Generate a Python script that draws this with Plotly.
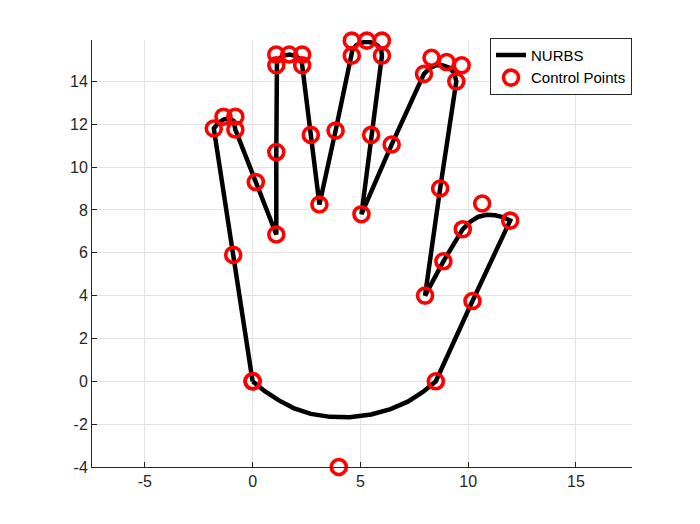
import plotly.graph_objects as go

# Control points (x, y)
ctrl_x = [0, -0.9, -1.8, -1.35, -0.8, -0.8, 0.15, 1.1, 1.1, 1.1, 1.1, 1.7, 2.3, 2.3,
          2.7, 3.1, 3.85, 4.6, 4.6, 5.3, 6.0, 6.0, 5.5, 5.05, 6.45, 7.95, 8.3, 9.0,
          9.7, 9.45, 8.7, 8.0, 8.85, 9.75, 10.65, 11.95, 10.2, 8.5, 4.0, 0]
ctrl_y = [0, 5.9, 11.8, 12.35, 12.35, 11.75, 9.3, 6.85, 10.7, 14.75, 15.25, 15.25, 15.25, 14.75,
          11.5, 8.25, 11.7, 15.2, 15.9, 15.9, 15.9, 15.2, 11.5, 7.8, 11.05, 14.35, 15.1, 14.9,
          14.75, 14.0, 9.0, 4.0, 5.6, 7.1, 8.3, 7.5, 3.75, 0.0, -4.0, 0]

# NURBS curve vertices
curve_x = [0, -0.9, -1.8, -1.6, -1.35, -1.08, -0.88, -0.8, 0.15, 1.1, 1.1, 1.1,
           1.13, 1.28, 1.45, 1.7, 1.95, 2.12, 2.27, 2.3, 2.7, 3.1, 3.85, 4.6,
           4.63, 4.8, 5.0, 5.3, 5.6, 5.8, 5.97, 6.0, 5.5, 5.05, 6.45, 7.95,
           8.2, 8.5, 8.8, 9.1, 9.35, 9.45, 8.7, 8.0, 8.85, 9.75,
           10.1, 10.45, 10.85, 11.25, 11.65, 11.95, 10.2, 8.5,
           7.9, 7.2, 6.4, 5.5, 4.5, 3.6, 2.7, 1.9, 1.2, 0.55, 0]
curve_y = [0, 5.9, 11.8, 12.05, 12.22, 12.28, 12.15, 11.75, 9.3, 6.85, 10.7, 14.75,
           14.95, 15.1, 15.2, 15.25, 15.2, 15.1, 14.95, 14.75, 11.5, 8.25, 11.7, 15.2,
           15.45, 15.68, 15.8, 15.85, 15.8, 15.68, 15.45, 15.2, 11.5, 7.8, 11.05, 14.35,
           14.6, 14.75, 14.75, 14.65, 14.4, 14.0, 9.0, 4.0, 5.6, 7.1,
           7.45, 7.67, 7.77, 7.75, 7.65, 7.5, 3.75, 0.0,
           -0.5, -0.95, -1.3, -1.55, -1.68, -1.66, -1.52, -1.25, -0.88, -0.45, 0]

x_ticks = [-5, 0, 5, 10, 15]
y_ticks = [-4, -2, 0, 2, 4, 6, 8, 10, 12, 14]

axis_color = "#262626"
grid_color = "#e3e3e3"
font_family = "Liberation Sans, Arial, sans-serif"

fig = go.Figure()
fig.add_trace(go.Scatter(
    x=curve_x, y=curve_y, mode="lines", name="NURBS",
    line=dict(color="black", width=4.5),
    cliponaxis=False,
))
fig.add_trace(go.Scatter(
    x=ctrl_x, y=ctrl_y, mode="markers", name="Control Points",
    marker=dict(symbol="circle-open", size=15, color="red",
                line=dict(color="red", width=3.6)),
    cliponaxis=False,
))

fig.update_layout(
    width=700, height=524,
    margin=dict(l=84, r=76, t=32, b=65),
    paper_bgcolor="white", plot_bgcolor="white",
    font=dict(family=font_family, size=16, color=axis_color),
    showlegend=True,
    legend=dict(
        x=1, y=1.005, xanchor="right", yanchor="top",
        bordercolor=axis_color, borderwidth=1, bgcolor="white",
        font=dict(size=15, color="black"),
        tracegroupgap=0, itemwidth=30,
    ),
)
fig.update_xaxes(
    range=[-7.45, 17.6], tickvals=x_ticks, ticktext=[str(v) for v in x_ticks],
    showgrid=True, gridcolor=grid_color, gridwidth=1,
    showline=True, linecolor=axis_color, linewidth=1, mirror=False,
    ticks="inside", ticklen=5, tickcolor=axis_color,
    zeroline=False, tickfont=dict(size=16, color=axis_color),
)
fig.update_yaxes(
    range=[-4, 15.93], tickvals=y_ticks, ticktext=[str(v) for v in y_ticks],
    showgrid=True, gridcolor=grid_color, gridwidth=1,
    showline=True, linecolor=axis_color, linewidth=1, mirror=False,
    ticks="inside", ticklen=5, tickcolor=axis_color,
    zeroline=False, tickfont=dict(size=16, color=axis_color),
)

fig.write_html("out.html")
